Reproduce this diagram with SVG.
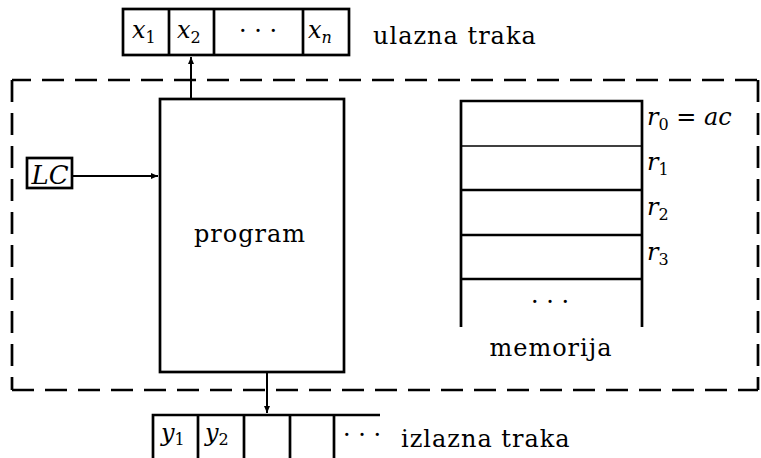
<svg xmlns="http://www.w3.org/2000/svg" width="761" height="458" viewBox="0 0 761 458">
<style>
.s{fill:none;stroke:#000;stroke-width:2.7}
.t{fill:none;stroke:#000;stroke-width:1.3}
.d{fill:none;stroke:#000;stroke-width:2.7;stroke-dasharray:22 11}
.c{fill:none;stroke:#000;stroke-width:2}
text{font-size:24px;fill:#000;letter-spacing:1px}
.m{font-style:italic;letter-spacing:0}
.sub{font-size:16px;font-style:normal}
.dots{letter-spacing:0}
</style>
<defs>
<marker id="ah" markerWidth="8" markerHeight="8" refX="7" refY="4" orient="auto" markerUnits="userSpaceOnUse">
<path d="M0,1 L7,4 L0,7 z" fill="#000"/>
</marker>
</defs>
<rect width="761" height="458" fill="#fff"/>
<g font-family="DejaVu Serif, Liberation Serif, serif">
<g id="boundary">
<path class="d" d="M12,80H758" stroke-dashoffset="3"/>
<path class="d" d="M12,80V390"/>
<path class="d" d="M758,80V390"/>
<path class="d" d="M12,390H758"/>
</g>
<g id="input-tape">
<rect class="s" x="123" y="9" width="226" height="46"/>
<path class="s" d="M169,9V55M214,9V55M303,9V55"/>
<text x="132" y="38" class="m">x<tspan class="sub" dy="5">1</tspan></text>
<text x="177" y="38" class="m">x<tspan class="sub" dy="5">2</tspan></text>
<text x="258" y="39" text-anchor="middle" class="dots">· · ·</text>
<text x="308" y="38" class="m">x<tspan dy="5" style="font-size:16px;font-style:italic">n</tspan></text>
<text x="373" y="44">ulazna traka</text>
</g>
<g id="program">
<rect class="s" x="160" y="99" width="184" height="273"/>
<text x="250" y="242" text-anchor="middle">program</text>
</g>
<g id="lc">
<rect class="s" x="27" y="158" width="45" height="30"/>
<text x="50" y="184" text-anchor="middle" class="m" style="font-size:26px">LC</text>
</g>
<g id="memory">
<path class="s" d="M461,327V101H642V327"/>
<path class="t" d="M461,146H642"/>
<path class="s" d="M461,190H642M461,235H642M461,279H642"/>
<text x="550" y="310" text-anchor="middle" class="dots">· · ·</text>
<text x="551" y="356" text-anchor="middle">memorija</text>
<text x="647" y="125" class="m">r<tspan class="sub" dy="5">0</tspan><tspan dy="-5" style="font-style:normal"> = </tspan>ac</text>
<text x="647" y="170" class="m">r<tspan class="sub" dy="5">1</tspan></text>
<text x="647" y="215" class="m">r<tspan class="sub" dy="5">2</tspan></text>
<text x="647" y="260" class="m">r<tspan class="sub" dy="5">3</tspan></text>
</g>
<g id="output-tape">
<path class="s" d="M153,458V415H380M198,415V458M244,415V458M290,415V458M334,415V458"/>
<text x="161" y="441" class="m">y<tspan class="sub" dy="4">1</tspan></text>
<text x="205" y="441" class="m">y<tspan class="sub" dy="4">2</tspan></text>
<text x="362" y="443" text-anchor="middle" class="dots">· · ·</text>
<text x="401" y="447">izlazna traka</text>
</g>
<g id="connectors">
<path class="c" d="M191,99V57" marker-end="url(#ah)"/>
<path class="c" d="M72,176H158" marker-end="url(#ah)"/>
<path class="c" d="M267,372V413" marker-end="url(#ah)"/>
</g>
</g>
</svg>
